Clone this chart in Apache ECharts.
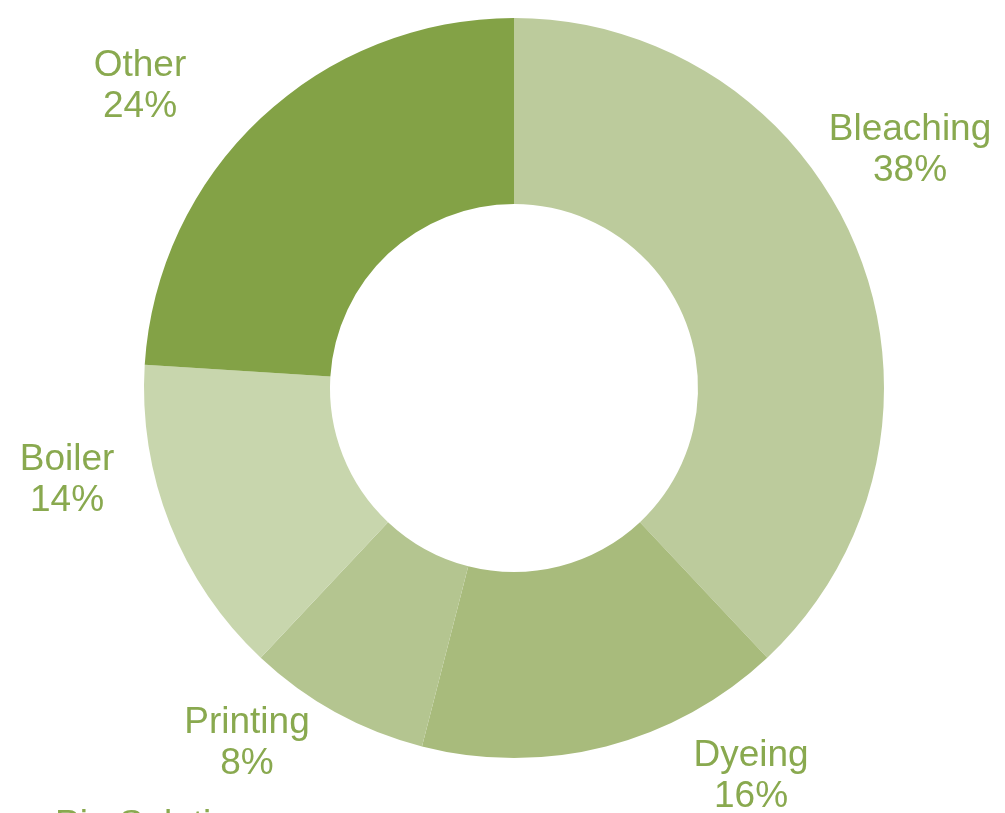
<!DOCTYPE html>
<html>
<head>
<meta charset="utf-8">
<script src="https://cdn.jsdelivr.net/npm/echarts@6/dist/echarts.min.js"></script>
<style>
html,body{margin:0;padding:0;background:#fff;}
#chart{width:1005px;height:813px;}
</style>
</head>
<body>
<div id="chart"></div>
<script>
const categories = ['Bleaching', 'Dyeing', 'Printing', 'Boiler', 'Other'];
const shares = [38, 16, 8, 14, 24];
const sliceColors = ['#bccb9c', '#a8bb7c', '#b4c590', '#c8d6ad', '#83a246'];
// label block centres (text placement only)
const labelCentres = [[910, 150], [751, 776], [247, 743], [67, 480], [140, 86]];

const chart = echarts.init(document.getElementById('chart'), null, {renderer: 'canvas'});
chart.setOption({
  backgroundColor: '#ffffff',
  animation: false,
  series: [{
    type: 'pie',
    center: [514, 388],
    radius: [184, 370],
    startAngle: 90,
    clockwise: true,
    avoidLabelOverlap: false,
    itemStyle: {borderWidth: 0},
    emphasis: {disabled: true},
    label: {
      show: true,
      position: 'outside',
      formatter: '{b}\n{c}%',
      color: '#89a94f',
      fontFamily: 'Liberation Sans, Arial, sans-serif',
      fontSize: 37,
      lineHeight: 41
    },
    labelLine: {show: false},
    labelLayout: function (p) {
      const c = labelCentres[p.dataIndex];
      return {x: c[0], y: c[1], align: 'center', verticalAlign: 'middle'};
    },
    data: categories.map((n, i) => ({name: n, value: shares[i], itemStyle: {color: sliceColors[i]}}))
  }],
  graphic: [{
    type: 'text',
    left: 55,
    top: 807,
    style: {
      text: 'Pie Solutions',
      fill: '#89a94f',
      font: '37px "Liberation Sans", Arial, sans-serif'
    }
  }]
});
</script>
</body>
</html>
